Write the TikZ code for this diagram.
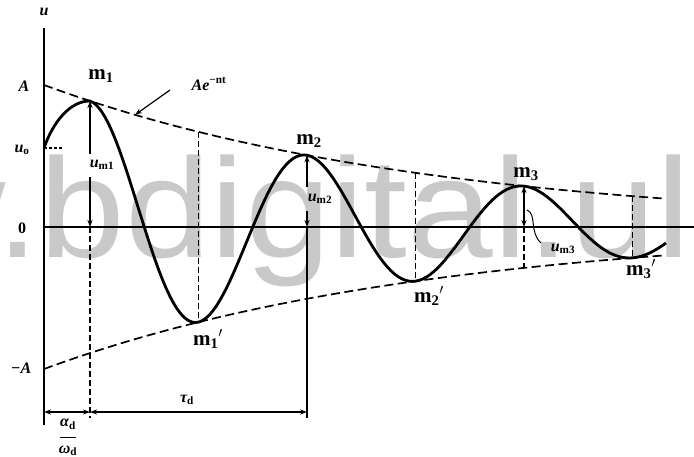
\documentclass[tikz,border=0pt]{standalone}
\usepackage{fontspec}
\setmainfont{Liberation Serif}
\newfontfamily\wmfont{Liberation Sans}
\usetikzlibrary{arrows.meta}
\begin{document}
\begin{tikzpicture}[x=1pt,y=-1pt,
  declare function={E(\t)=142*exp(-0.0026*(\t-44)); U(\t)=E(\t)*cos(1.658986*(\t-90));},
  lab/.style={font=\fontsize{16}{16}\selectfont\bfseries\itshape, inner sep=1pt},
  mlab/.style={font=\fontsize{21}{21}\selectfont\bfseries, inner sep=1pt},
  env/.style={dash pattern=on 9pt off 4.5pt, line width=1.7pt},
  vdash/.style={dash pattern=on 6pt off 3pt, line width=1.2pt},
  tip/.style={-{Stealth[length=7pt,width=5pt]}},
  arr/.style={line width=1.2pt, tip},
  dimv/.style={line width=1.2pt, {Stealth[length=7pt,width=5pt]}-{Stealth[length=7pt,width=5pt]}},
  axis/.style={line width=1.4pt},
  curve/.style={line width=2.8pt},
]
\useasboundingbox (0,0) rectangle (694,456);
\fill[white] (0,0) rectangle (694,456);
% watermark
\node[anchor=base west, inner sep=0, text=black!21] (wm) at (-106,257)
  {\scalebox{1}[0.92]{\wmfont\fontsize{154}{154}\selectfont w.bdigital.ul}};
% axes
\coordinate (utop) at (44,28);
\coordinate (ubot) at (44,425);
\coordinate (O) at (44,227);
\coordinate (xend) at (694,227);
\draw[axis] (ubot) -- (utop);
\draw[axis] (O) -- (xend);
% key points
\coordinate (m1) at (90,{227-E(90)});
\coordinate (m1p) at (198.5,{227+E(198.5)});
\coordinate (m1u) at (198.5,{227-E(198.5)});
\coordinate (m2) at (307,{227-E(307)});
\coordinate (m2p) at (415.5,{227+E(415.5)});
\coordinate (m2u) at (415.5,{227-E(415.5)});
\coordinate (m3) at (524,{227-E(524)});
\coordinate (m3l) at (524,{227+E(524)});
\coordinate (m3p) at (632.5,{227+E(632.5)});
\coordinate (m3u) at (632.5,{227-E(632.5)});
\coordinate (u0) at (44,148);
\coordinate (u0t) at (62,148);
% envelopes
\draw[env] plot[domain=44:666,samples=80] (\x,{227-E(\x)});
\draw[env] plot[domain=44:666,samples=80] (\x,{227+E(\x)});
\draw[vdash,dash pattern=on 3pt off 2pt] (u0) -- (u0t);
% oscillation
\draw[curve] (u0) .. controls (53,122) and (70,{227-E(90)}) .. (m1)
  -- plot[domain=90:666,samples=160] (\x,{227-U(\x)});
% vertical lines
\coordinate (a1) at (90,154);
\coordinate (b1) at (90,177);
\coordinate (z1) at (90,227);
\coordinate (d1) at (90,418);
\draw[arr] (a1) -- (m1);
\draw[arr] (b1) -- (z1);
\draw[vdash] (z1) -- (d1);
\draw[vdash] (m1u) -- (m1p);
\coordinate (a2) at (307,187);
\coordinate (b2) at (307,211);
\coordinate (z2) at (307,227);
\coordinate (d2) at (307,418);
\draw[arr] (a2) -- (m2);
\draw[arr] (b2) -- (z2);
\draw[line width=1.2pt] (z2) -- (d2);
\draw[vdash] (m2u) -- (m2p);
\coordinate (z3) at (524,227);
\draw[dimv] (m3) -- (z3);
\draw[vdash] (z3) -- (m3l);
\draw[vdash] (m3u) -- (m3p);
% leader for u_m3
\coordinate (l1) at (527,210);
\coordinate (l2) at (541,243);
\draw[line width=1pt] (l1) .. controls (537,214) and (529,232) .. (l2);
% Ae^-nt arrow
\coordinate (ae1) at (170,90);
\coordinate (ae2) at (135,{227-E(135)});
\draw[line width=1.2pt, tip] (ae1) -- (ae2);
% dimension lines
\coordinate (p0) at (44,412);
\coordinate (p1) at (90,412);
\coordinate (p2) at (307,412);
\draw[dimv] (p0) -- (p1);
\draw[dimv] (p1) -- (p2);
% labels
\node[lab] (lu) at (44,12) {u};
\node[lab] (lA) at (24,86) {A};
\node[lab] (lu0) at (22,150) {u\textsubscript{\upshape o}};
\node[lab,font=\fontsize{16}{16}\selectfont\bfseries] (l0) at (22,228) {0};
\node[lab] (lmA) at (21,368) {−A};
\node[lab] (lae) at (209,84) {Ae\textsuperscript{\upshape −nt}};
\node[mlab] (lm1) at (101,76) {m\textsubscript{1}};
\node[mlab] (lm2) at (309,141) {m\textsubscript{2}};
\node[mlab] (lm3) at (526,174) {m\textsubscript{3}};
\node[mlab] (lm1p) at (208,339) {m\textsubscript{1}$'$};
\node[mlab] (lm2p) at (429,296) {m\textsubscript{2}$'$};
\node[mlab] (lm3p) at (641,269) {m\textsubscript{3}$'$};
\node[lab] (lum1) at (102,165) {u\textsubscript{\upshape m1}};
\node[lab] (lum2) at (320,199) {u\textsubscript{\upshape m2}};
\node[lab] (lum3) at (563,249) {u\textsubscript{\upshape m3}};
\node[lab] (ltau) at (187,400) {τ\textsubscript{\upshape d}};
\node[lab] (lal) at (68,424) {α\textsubscript{\upshape d}};
\draw[line width=1pt] (60,437) -- (76,437);
\node[lab] (lom) at (68,451) {ω\textsubscript{\upshape d}};
\end{tikzpicture}
\end{document}
